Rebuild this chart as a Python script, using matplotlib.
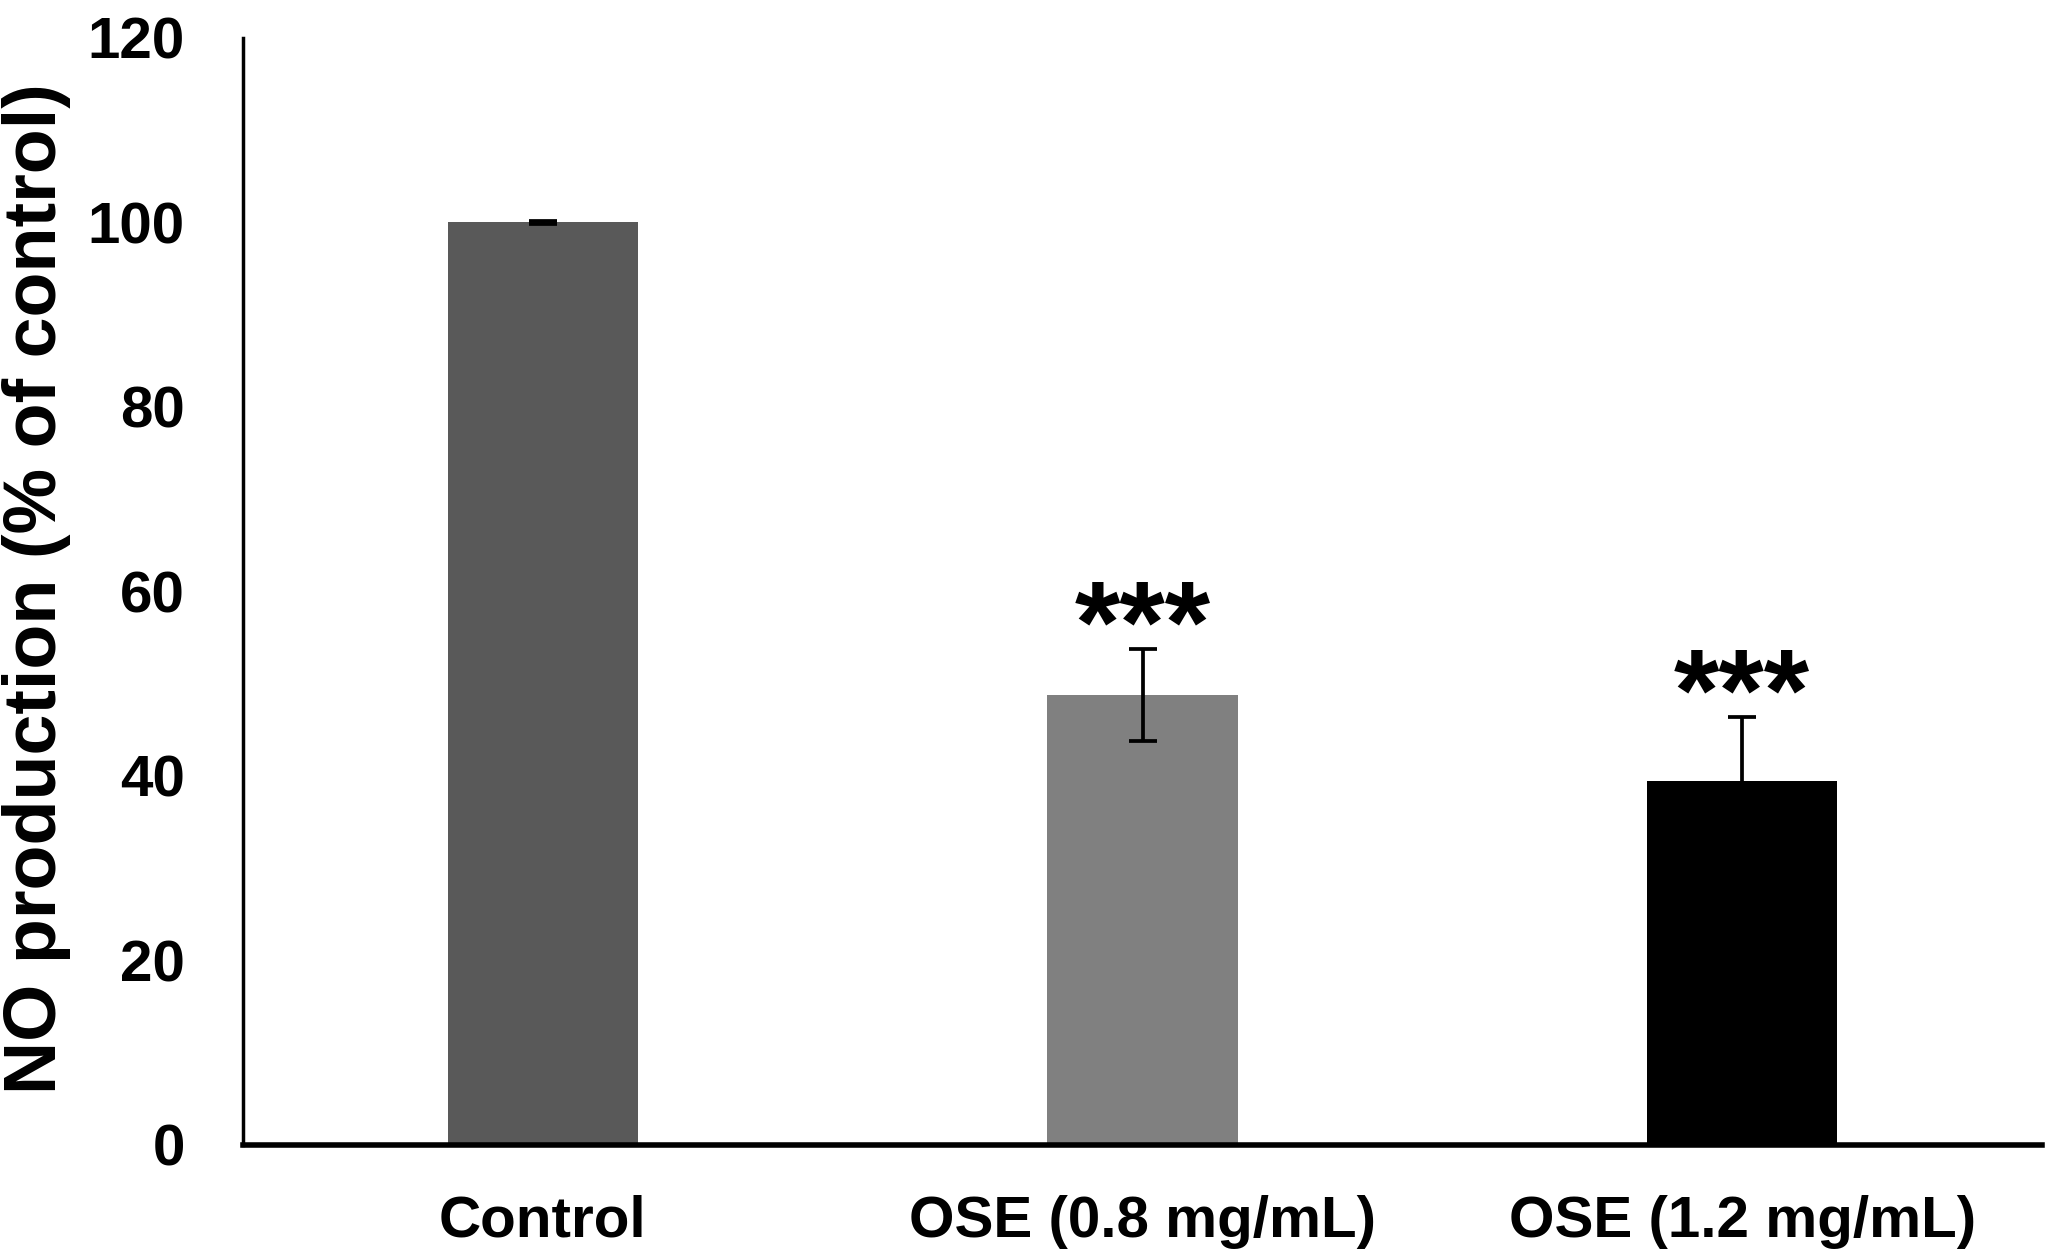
import matplotlib
matplotlib.use("Agg")
import matplotlib.pyplot as plt
import numpy as np

categories = ["Control", "OSE (0.8 mg/mL)", "OSE (1.2 mg/mL)"]
values = [100.0, 48.8, 39.4]
errors = [0.2, 5.0, 7.0]
significance = ["", "***", "***"]
bar_colors = ["#595959", "#808080", "#000000"]
yticks = [0, 20, 40, 60, 80, 100, 120]

plt.rcParams['font.family'] = ['Liberation Sans', 'DejaVu Sans']
plt.rcParams['font.weight'] = 'bold'

fig = plt.figure(figsize=(20.47, 12.52), dpi=100)
ax = fig.add_axes([0.1187, 0.0855, 0.8789, 0.8842])

x = np.arange(len(categories))
ax.bar(x, values, width=0.317, color=bar_colors, zorder=2)
ax.errorbar(x, values, yerr=errors, fmt='none', ecolor='black',
            elinewidth=2.7, capsize=10, capthick=2.7, zorder=3)

for xi, v, e, s in zip(x, values, errors, significance):
    if s:
        ax.text(xi, v + e + 1.8, s, ha='center', va='center',
                fontsize=84, fontweight='bold', color='black')

ax.set_xlim(-0.5, 2.5)
ax.set_ylim(0, 120)
ax.set_yticks(yticks)
ax.set_yticklabels([str(t) for t in yticks])
ax.set_xticks(x)
ax.set_xticklabels(categories)
ax.tick_params(axis='y', length=0, pad=42, labelsize=42)
ax.tick_params(axis='x', length=0, pad=36, labelsize=42)
for lab in ax.get_xticklabels() + ax.get_yticklabels():
    lab.set_fontweight('bold')

ax.spines['top'].set_visible(False)
ax.spines['right'].set_visible(False)
ax.spines['left'].set_linewidth(2.5)
ax.spines['bottom'].set_linewidth(4)

fig.text(0.001, (1252 - 589) / 1252, "NO production (% of control)", rotation=90,
         ha='left', va='center', fontsize=53, fontweight='bold')

fig.savefig("out.png", dpi=100, facecolor='white')
